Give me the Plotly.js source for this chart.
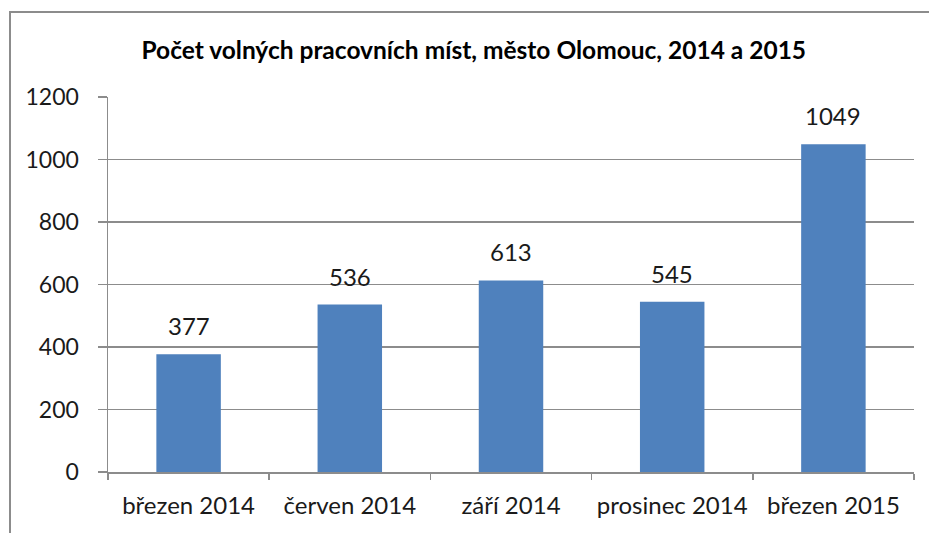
<!DOCTYPE html>
<html>
<head>
<meta charset="utf-8">
<script src="https://cdn.plot.ly/plotly-3.0.1.min.js"></script>
<style>
html,body{margin:0;padding:0;background:#fff;}
#wrap{position:relative;width:929px;height:533px;overflow:hidden;}
#frame{position:absolute;left:9px;top:11px;width:940px;height:540px;border:2.5px solid #8c8c8c;box-sizing:border-box;}
#chart{position:absolute;left:0;top:0;width:929px;height:533px;}
</style>
</head>
<body>
<div id="wrap"><div id="frame"></div><div id="chart"></div></div>
<script>
var categories = ["březen 2014", "červen 2014", "září 2014", "prosinec 2014", "březen 2015"];
var values = [377, 536, 613, 545, 1049];
var tickVals = [0, 200, 400, 600, 800, 1000, 1200];

var font = "Lato, 'Open Sans', sans-serif";
var trace = {
  type: "bar",
  x: categories,
  y: values,
  marker: {color: "#4f81bd"},
  hoverinfo: "x+y"
};
var labels = categories.map(function (c, i) {
  return {x: c, y: values[i], xref: "x", yref: "y", text: String(values[i]),
          showarrow: false, yanchor: "bottom", yshift: 12,
          font: {family: font, size: 24, color: "#1a1a1a"}};
});
var layout = {
  width: 929, height: 533,
  margin: {l: 108, r: 15, t: 97, b: 61},
  paper_bgcolor: "rgba(0,0,0,0)",
  plot_bgcolor: "rgba(0,0,0,0)",
  bargap: 0.6,
  showlegend: false,
  annotations: labels,
  title: {text: "<b>Počet volných pracovních míst, město Olomouc, 2014 a 2015</b>",
          font: {family: font, size: 24.5, color: "#000"}, x: 0.51, xanchor: "center", y: 0.905, yanchor: "middle"},
  xaxis: {
    type: "category",
    showline: true, linecolor: "#8c8c8c", linewidth: 1.5,
    ticks: "outside", tickson: "boundaries", ticklen: 6, tickcolor: "#8c8c8c", tickwidth: 1.5,
    ticklabelstandoff: 12,
    tickfont: {family: font, size: 24, color: "#1a1a1a"},
    showgrid: false
  },
  yaxis: {
    range: [0, 1200],
    tickvals: tickVals,
    showline: true, linecolor: "#8c8c8c", linewidth: 1.5,
    ticks: "outside", ticklen: 9, tickcolor: "#8c8c8c", tickwidth: 1.5,
    ticklabelstandoff: 14,
    tickfont: {family: font, size: 23, color: "#1a1a1a"},
    showgrid: true, gridcolor: "#8c8c8c", gridwidth: 1.5,
    zeroline: false
  }
};
Plotly.newPlot("chart", [trace], layout, {displayModeBar: false, staticPlot: true});
</script>
</body>
</html>
